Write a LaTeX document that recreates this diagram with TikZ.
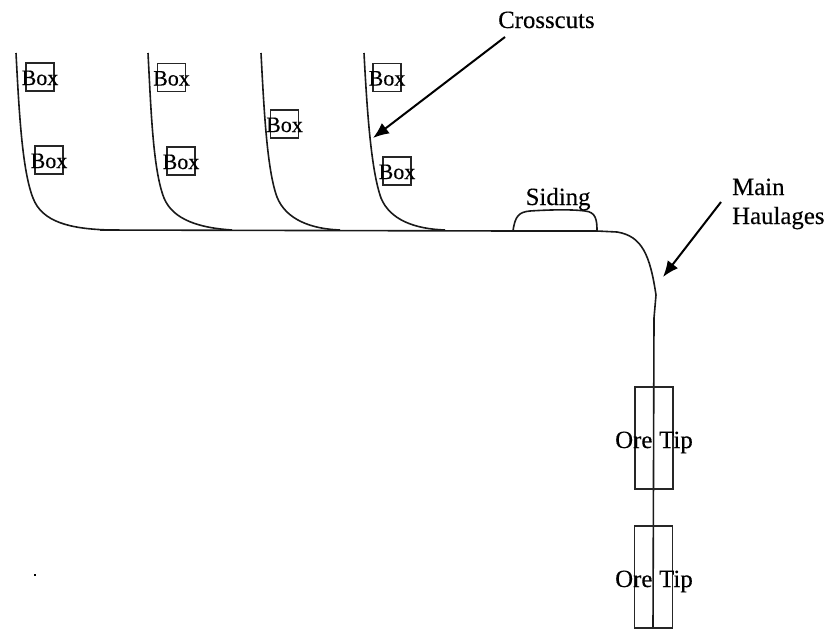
\documentclass[tikz,border=0pt]{standalone}
\usepackage{fontspec}
\setmainfont[RawFeature={embolden=0.3}]{Liberation Serif}
\usetikzlibrary{arrows.meta}
\tikzset{
  line/.style={draw=black!90,line width=1.6pt,line join=round},
  boxnode/.style={draw=black!85,line width=1.3pt,minimum width=28pt,minimum height=28pt,inner sep=0pt},
  boxtext/.style={font=\fontsize{22}{24}\selectfont,inner sep=0pt,text=black,anchor=base},
  tipbox/.style={draw=black!85,line width=1.2pt,minimum width=38pt,minimum height=102pt,inner sep=0pt},
  label/.style={font=\fontsize{24.8}{27}\selectfont,inner sep=0pt,text=black,anchor=base west},
  arrow/.style={draw=black,line width=2pt,-{Latex[length=16pt,width=13pt]}}
}
\begin{document}
\begin{tikzpicture}[x=1pt,y=-1pt]
\useasboundingbox (0,0) rectangle (827,629);
% boxes
\foreach \n/\x/\y in {a/40/77,b/49/160,c/171.5/77.5,d/181/161,e/284.5/124,f/387/77.5,g/397/171}{
  \node[boxnode] (box\n) at (\x,\y) {};
  \node[boxtext] (t\n) at (\x,\y+8) {Box};
}
% main haulage
\coordinate (w) at (100,230);
\coordinate (sa) at (513,231);
\coordinate (sb) at (597,231);
\coordinate (bendin) at (617,232);
\coordinate (bend) at (656,295);
\coordinate (bendout) at (654,318);
\coordinate (bot) at (653,628);
\draw[line] (w) -- (sa) -- (sb) -- (bendin) .. controls (642,236) and (650,255) .. (bend) -- (bendout) -- (bot);
% crosscuts
\coordinate (c1) at (16,53); \coordinate (c2) at (148,53); \coordinate (c3) at (261,53); \coordinate (c4) at (364,53);
\coordinate (m1) at (33,198); \coordinate (m2) at (164,198); \coordinate (m3) at (277,197); \coordinate (m4) at (381,198);
\coordinate (e1) at (110,230); \coordinate (e2) at (232,230); \coordinate (e3) at (340,230); \coordinate (e4) at (445,230);
\draw[line] (c1) .. controls (19,110) and (22,170) .. (m1) .. controls (42,222) and (70,229) .. (e1);
\draw[line] (c2) .. controls (151,110) and (153,170) .. (m2) .. controls (173,220) and (200,228) .. (e2);
\draw[line] (c3) .. controls (264,110) and (267,170) .. (m3) .. controls (286,220) and (312,229) .. (e3);
\draw[line] (c4) .. controls (367,110) and (371,170) .. (m4) .. controls (390,220) and (415,229) .. (e4);
% siding
\draw[line] (sa) .. controls (515,216) and (519,212) .. (530,211) .. controls (545,210) and (570,209) .. (585,211) .. controls (596,212) and (597,220) .. (sb);
% tips
\node[tipbox] (tip1) at (654,438) {};
\node[tipbox] (tip2) at (653.5,577) {};
\node[label] (ore1) at (615,448) {Ore};
\node[label] (tp1) at (659,448) {Tip};
\node[label] (ore2) at (615,587) {Ore};
\node[label] (tp2) at (659,587) {Tip};
% labels
\node[label] (cross) at (498,28) {Crosscuts};
\node[label] (sid) at (525.5,205) {Siding};
\node[label] (main1) at (732,195) {Main};
\node[label] (main2) at (732,224) {Haulages};
% arrows
\coordinate (ca) at (373,138); \coordinate (ma) at (663,277);
\coordinate (cs) at (505,37); \coordinate (ms) at (721,202);
\draw[arrow] (cs) -- (ca);
\draw[arrow] (ms) -- (ma);
\fill (33.7,573.7) rectangle (36.3,576.3);
\end{tikzpicture}
\end{document}
